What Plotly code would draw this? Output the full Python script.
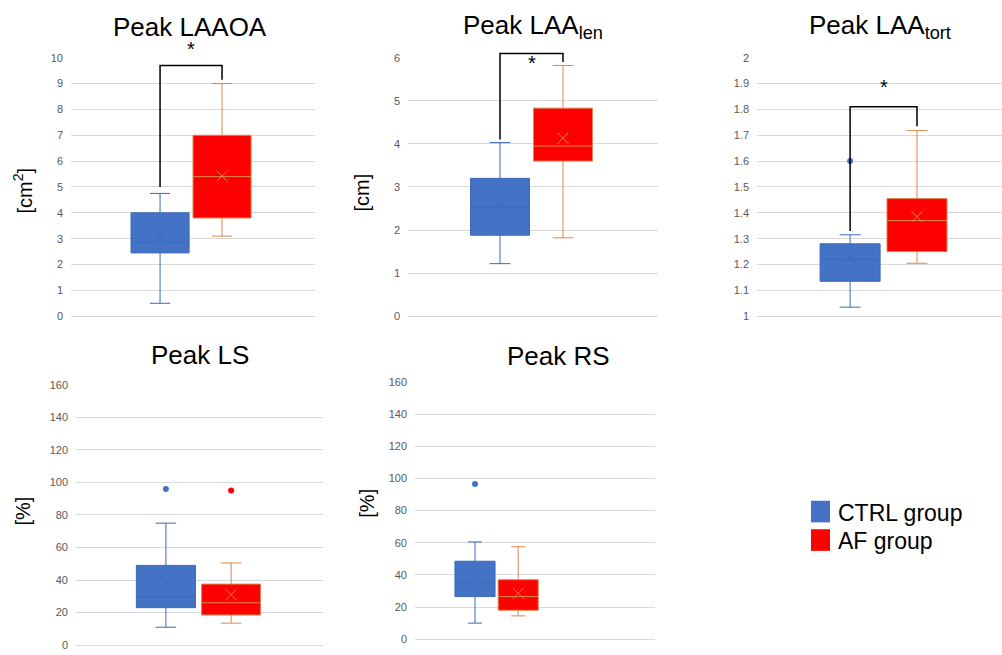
import plotly.graph_objects as go

W, H = 1002, 655

# ---------------- data ----------------
panels = ["Peak LAAOA", "Peak LAA<sub>len</sub>", "Peak LAA<sub>tort</sub>", "Peak LS", "Peak RS"]
units = ["[cm<sup>2</sup>]", "[cm]", "", "[%]", "[%]"]
groups = ["CTRL group", "AF group"]

ctrl_low = [0.5, 1.22, 1.035, 11, 10]
ctrl_q1 = [2.45, 1.88, 1.135, 23, 26.5]
ctrl_med = [2.87, 2.53, 1.22, 29.5, 35.5]
ctrl_q3 = [4.0, 3.2, 1.28, 49, 48.5]
ctrl_high = [4.75, 4.03, 1.315, 75, 60.5]
ctrl_mean = [3.05, 2.55, 1.225, 38, 40]
ctrl_out = [[], [], [1.6], [96], [96.5]]

af_low = [3.1, 1.82, 1.205, 13.5, 14.5]
af_q1 = [3.8, 3.6, 1.25, 18.5, 18]
af_med = [5.4, 3.95, 1.37, 26, 26.5]
af_q3 = [7.0, 4.83, 1.455, 37.5, 37]
af_high = [9.0, 5.82, 1.718, 50.5, 57.5]
af_mean = [5.42, 4.13, 1.385, 31, 28.5]
af_out = [[], [], [], [95], []]

# significance brackets: (panel, left start y, top y, right end y)
sig_panel = [0, 1, 2]
sig_left = [5.0, 4.1, 1.33]
sig_top = [9.7, 6.1, 1.81]
sig_right = [9.15, 5.9, 1.735]
sig_star_y = [10.35, 5.88, 1.885]

# ---------------- layout geometry (pixels) ----------------
yranges = [(0, 10, 1), (0, 6, 1), (1, 2, 0.1), (0, 160, 20), (0, 160, 20)]
px_x = [(71, 315), (408, 658), (757, 1002), (76, 323), (415, 655)]
px_y = [(52.7, 316), (52.7, 316), (52.7, 316), (386, 651), (383, 645)]
pos = [(0.365, 0.619), (0.368, 0.62), (0.38, 0.653), (0.364, 0.628), (0.25, 0.43)]
bw = [0.238, 0.236, 0.245, 0.239, 0.167]
title_xy = [(190, 21), (533, 21), (880, 21), (200, 356), (558, 357)]
unit_xy = [(23, 188), (362, 190), None, (23, 515), (367, 507)]

BLUE = "#4472C4"
BLUE_LINE = "#3D69B8"
RED = "#FF0000"
RED_LINE = "#D9874F"
GRID = "#D9D9D9"
FONT = "Liberation Sans"


def fx(p):
    return p / W


def fy(p):
    return 1 - p / H


fig = go.Figure()
layout = {}
annotations = []
shapes = []

for i in range(5):
    k = "" if i == 0 else str(i + 1)
    xa, ya = "x" + k, "y" + k
    lo, hi, dt = yranges[i]
    nt = int(round((hi - lo) / dt))
    tv = [lo + j * dt for j in range(nt + 1)]
    tt = [("%g" % round(v, 2)) for v in tv]
    layout["xaxis" + k] = dict(domain=[fx(px_x[i][0]), fx(px_x[i][1])], range=[0, 1],
                               showgrid=False, zeroline=False, showticklabels=False,
                               showline=True, linecolor=GRID, linewidth=1, anchor=ya, fixedrange=True)
    layout["yaxis" + k] = dict(domain=[fy(px_y[i][1]), fy(px_y[i][0])], range=[lo, hi],
                               tickvals=tv, ticktext=tt, showgrid=True, gridcolor=GRID, gridwidth=1,
                               zeroline=False, showline=False, ticks="", ticklabelstandoff=7,
                               tickfont=dict(family=FONT, size=11, color="#595959"), anchor=xa)

    for g, (low, q1, med, q3, high, mean, outs, fill, lc, oc) in enumerate([
        (ctrl_low, ctrl_q1, ctrl_med, ctrl_q3, ctrl_high, ctrl_mean, ctrl_out, BLUE, BLUE_LINE, BLUE),
        (af_low, af_q1, af_med, af_q3, af_high, af_mean, af_out, RED, RED_LINE, RED)]):
        fig.add_trace(go.Box(x=[pos[i][g]], q1=[q1[i]], median=[med[i]], q3=[q3[i]],
                             lowerfence=[low[i]], upperfence=[high[i]], width=bw[i],
                             fillcolor=fill, line=dict(color=lc, width=1), whiskerwidth=0.35,
                             boxpoints=False, showlegend=False, name=groups[g],
                             xaxis=xa, yaxis=ya))
        fig.add_trace(go.Scatter(x=[pos[i][g]], y=[mean[i]], mode="markers", showlegend=False,
                                 marker=dict(symbol="x-thin", size=11, line=dict(width=1, color=lc)),
                                 xaxis=xa, yaxis=ya, hoverinfo="skip"))
        if outs[i]:
            fig.add_trace(go.Scatter(x=[pos[i][g]] * len(outs[i]), y=outs[i], mode="markers",
                                     showlegend=False, marker=dict(symbol="circle", size=6, color=oc),
                                     xaxis=xa, yaxis=ya, hoverinfo="skip"))

    annotations.append(dict(text=panels[i], x=fx(title_xy[i][0]), y=fy(title_xy[i][1]),
                            xref="paper", yref="paper", showarrow=False, xanchor="center", yanchor="middle",
                            font=dict(family=FONT, size=26, color="black")))
    if unit_xy[i]:
        annotations.append(dict(text=units[i], x=fx(unit_xy[i][0]), y=fy(unit_xy[i][1]),
                                xref="paper", yref="paper", showarrow=False, textangle=-90,
                                xanchor="center", yanchor="middle",
                                font=dict(family=FONT, size=20, color="black")))


def data_to_paper(i, xv, yv):
    lo, hi, _ = yranges[i]
    x0, x1 = px_x[i]
    y0, y1 = px_y[i]
    px = x0 + xv * (x1 - x0)
    py = y1 - (yv - lo) / (hi - lo) * (y1 - y0)
    return fx(px), fy(py)


for s, i in enumerate(sig_panel):
    xl, yl = data_to_paper(i, pos[i][0], sig_left[s])
    _, yt = data_to_paper(i, pos[i][0], sig_top[s])
    xr, yr = data_to_paper(i, pos[i][1], sig_right[s])
    shapes.append(dict(type="path", xref="paper", yref="paper",
                       path=f"M {xl},{yl} L {xl},{yt} L {xr},{yt} L {xr},{yr}",
                       line=dict(color="black", width=1.5)))
    xs, ys = data_to_paper(i, (pos[i][0] + pos[i][1]) / 2, sig_star_y[s])
    annotations.append(dict(text="*", x=xs, y=ys, xref="paper", yref="paper", showarrow=False,
                            xanchor="center", yanchor="middle", height=14,
                            font=dict(family=FONT, size=20, color="black")))

# legend (drawn manually)
leg_colors = [BLUE, RED]
leg_y = [515, 544]
for g in range(2):
    shapes.append(dict(type="rect", xref="paper", yref="paper",
                       x0=fx(811), x1=fx(830), y0=fy(leg_y[g] - 11), y1=fy(leg_y[g] + 11),
                       fillcolor=leg_colors[g], line=dict(width=0)))
    annotations.append(dict(text=groups[g], x=fx(836), y=fy(leg_y[g] + 1), xref="paper", yref="paper",
                            showarrow=False, xanchor="left", yanchor="middle",
                            font=dict(family=FONT, size=23, color="black")))

fig.update_layout(width=W, height=H, margin=dict(l=0, r=0, t=0, b=0),
                  plot_bgcolor="white", paper_bgcolor="white",
                  annotations=annotations, shapes=shapes, showlegend=False, **layout)

fig.write_html("out.html")
